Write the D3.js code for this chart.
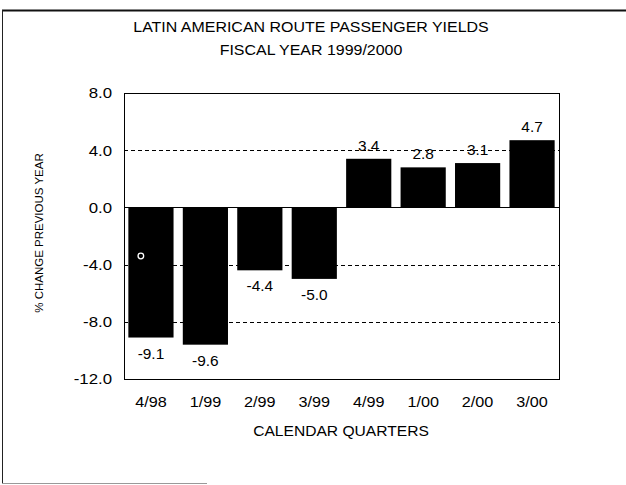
<!DOCTYPE html>
<html><head><meta charset="utf-8">
<script src="https://cdn.jsdelivr.net/npm/d3@7"></script>
<style>body{margin:0;background:#fff;} svg{display:block;} text{font-family:"Liberation Sans",Arial,sans-serif;fill:#000;}</style>
</head><body>
<script>
const categories = ["4/98","1/99","2/99","3/99","4/99","1/00","2/00","3/00"];
const values = [-9.1,-9.6,-4.4,-5.0,3.4,2.8,3.1,4.7];
const yTicks = [8,4,0,-4,-8,-12];
const gridValues = [4,-4,-8];
const titleLines = ["LATIN AMERICAN ROUTE PASSENGER YIELDS","FISCAL YEAR 1999/2000"];
const yTitle = "% CHANGE PREVIOUS YEAR";
const xTitle = "CALENDAR QUARTERS";
const marker = {cat:"4/98", value:-3.4};

const W=626,H=485;
const FF="Liberation Sans, Arial, sans-serif";
function stretch(sel,f){
  sel.each(function(){
    const l=this.getComputedTextLength();
    this.setAttribute("textLength",(l*f).toFixed(2));
    this.setAttribute("lengthAdjust","spacingAndGlyphs");
  });
}
const svg=d3.select("body").append("svg").attr("width",W).attr("height",H);
// page frame (scanned: top, left, partial bottom)
svg.append("line").attr("x1",2).attr("x2",626).attr("y1",10.5).attr("y2",10.5).attr("stroke","#111").attr("stroke-width",2);
svg.append("line").attr("x1",2.5).attr("x2",2.5).attr("y1",10).attr("y2",484).attr("stroke","#222").attr("stroke-width",1);
svg.append("line").attr("x1",2).attr("x2",207).attr("y1",483.5).attr("y2",483.5).attr("stroke","#999").attr("stroke-width",1);

const m={l:124,r:559,t:93,b:379};
const x=d3.scaleBand().domain(categories).range([m.l,m.r]).paddingInner(0.17).paddingOuter(0.08);
const y=d3.scaleLinear().domain([-12,8]).range([m.b,m.t]);

const tt=svg.selectAll(".t").data(titleLines).join("text")
  .attr("x",311).attr("y",(d,i)=>32+i*23).attr("text-anchor","middle")
  .attr("font-size",14.5).text(d=>d);
stretch(tt,1.1);

// grid
svg.selectAll(".grid").data(gridValues).join("line")
  .attr("x1",m.l).attr("x2",m.r).attr("y1",d=>Math.round(y(d))+0.5).attr("y2",d=>Math.round(y(d))+0.5)
  .attr("stroke","#000").attr("stroke-width",1).attr("stroke-dasharray","4,3");
// zero line
svg.append("line").attr("x1",m.l).attr("x2",m.r).attr("y1",Math.round(y(0))+0.5).attr("y2",Math.round(y(0))+0.5)
  .attr("stroke","#000").attr("stroke-width",1);

// bars
svg.selectAll(".bar").data(values).join("rect")
  .attr("x",(d,i)=>x(categories[i])).attr("width",x.bandwidth())
  .attr("y",d=>y(Math.max(0,d))).attr("height",d=>Math.abs(y(d)-y(0)))
  .attr("fill","#000");

// marker
svg.append("circle").attr("cx",x(marker.cat)+12.5).attr("cy",y(marker.value)).attr("r",2.8)
  .attr("fill","none").attr("stroke","#fff").attr("stroke-width",1.3);

// value labels
const vl=svg.selectAll(".vl").data(values).join("text")
  .attr("x",(d,i)=>x(categories[i])+x.bandwidth()/2)
  .attr("y",d=>d>=0? y(d)-8 : y(d)+21)
  .attr("text-anchor","middle").attr("font-size",14).text(d=>d.toFixed(1));
stretch(vl,1.1);

// frame of plot
svg.append("rect").attr("x",m.l+0.5).attr("y",m.t+0.5).attr("width",m.r-m.l).attr("height",m.b-m.t)
  .attr("fill","none").attr("stroke","#000").attr("stroke-width",1);

// y axis
const yAxis=d3.axisLeft(y).tickValues(yTicks).tickSize(0).tickPadding(12).tickFormat(d=>d.toFixed(1));
const ga=svg.append("g").attr("transform",`translate(${m.l},0)`).call(yAxis);
ga.select(".domain").remove();
ga.attr("font-size",15).attr("font-family",FF);
ga.selectAll("text").attr("fill","#000");
stretch(ga.selectAll("text"),1.12);

// x axis
const xAxis=d3.axisBottom(x).tickSize(0).tickPadding(17);
const gx=svg.append("g").attr("transform",`translate(0,${m.b})`).call(xAxis);
gx.select(".domain").remove();
gx.attr("font-size",15).attr("font-family",FF);
gx.selectAll("text").attr("fill","#000");
stretch(gx.selectAll("text"),1.08);

const xt=svg.append("text").attr("x",341).attr("y",436).attr("text-anchor","middle").attr("font-size",15).text(xTitle);
stretch(xt,1.04);
svg.append("text").attr("transform","translate(43,233) rotate(-90)").attr("text-anchor","middle").attr("font-size",11.5).text(yTitle);
</script>
</body></html>
